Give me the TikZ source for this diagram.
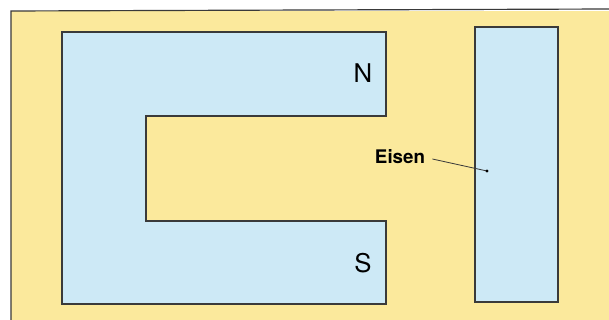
\documentclass[tikz,border=0pt]{standalone}
\usepackage{fontspec}
\setmainfont{TeX Gyre Heros}
\definecolor{gelb}{HTML}{FBE99C}
\definecolor{hellblau}{HTML}{CDE9F6}
\definecolor{rand}{HTML}{3A3A3A}
\begin{document}
\begin{tikzpicture}[x=0.03cm, y=-0.03cm, line join=miter]
    \useasboundingbox (0,0) rectangle (609,320);
    % 1. Hintergrund
    \fill[white] (0,0) rectangle (609,320);
    \fill[gelb] (11,11) rectangle (609,320);
    \draw[rand, line width=1pt] (11,320) -- (11,11) -- (609,9);

    % 2. Hufeisenmagnet
    \coordinate (A) at (62, 32);
    \coordinate (B) at (386, 32);
    \coordinate (C) at (386, 116);
    \coordinate (D) at (146, 116);
    \coordinate (E) at (146, 221);
    \coordinate (F) at (386, 221);
    \coordinate (G) at (386, 304);
    \coordinate (H) at (62, 304);
    \filldraw[fill=hellblau, draw=rand, line width=1.3pt]
        (A) -- (B) -- (C) -- (D) -- (E) -- (F) -- (G) -- (H) -- cycle;

    % 3. Eisenstab
    \filldraw[fill=hellblau, draw=rand, line width=1.3pt] (475, 27) rectangle (558, 302);

    % 4. Beschriftung
    \node[font=\fontsize{22}{24}\selectfont] (nord) at (363, 73) {N};
    \node[font=\fontsize{22}{24}\selectfont] (sued) at (363, 263) {S};
    \node[font=\fontsize{16}{18}\selectfont\bfseries, inner sep=1pt] (eisen) at (400, 157) {Eisen};
    \coordinate (punkt) at (487, 171);
    \coordinate (ansatz) at ([shift={(6,2)}]eisen.east);
    \draw[rand, line width=0.7pt] (ansatz) -- (punkt);
    \fill[black] (punkt) circle (1.3pt);
\end{tikzpicture}
\end{document}
